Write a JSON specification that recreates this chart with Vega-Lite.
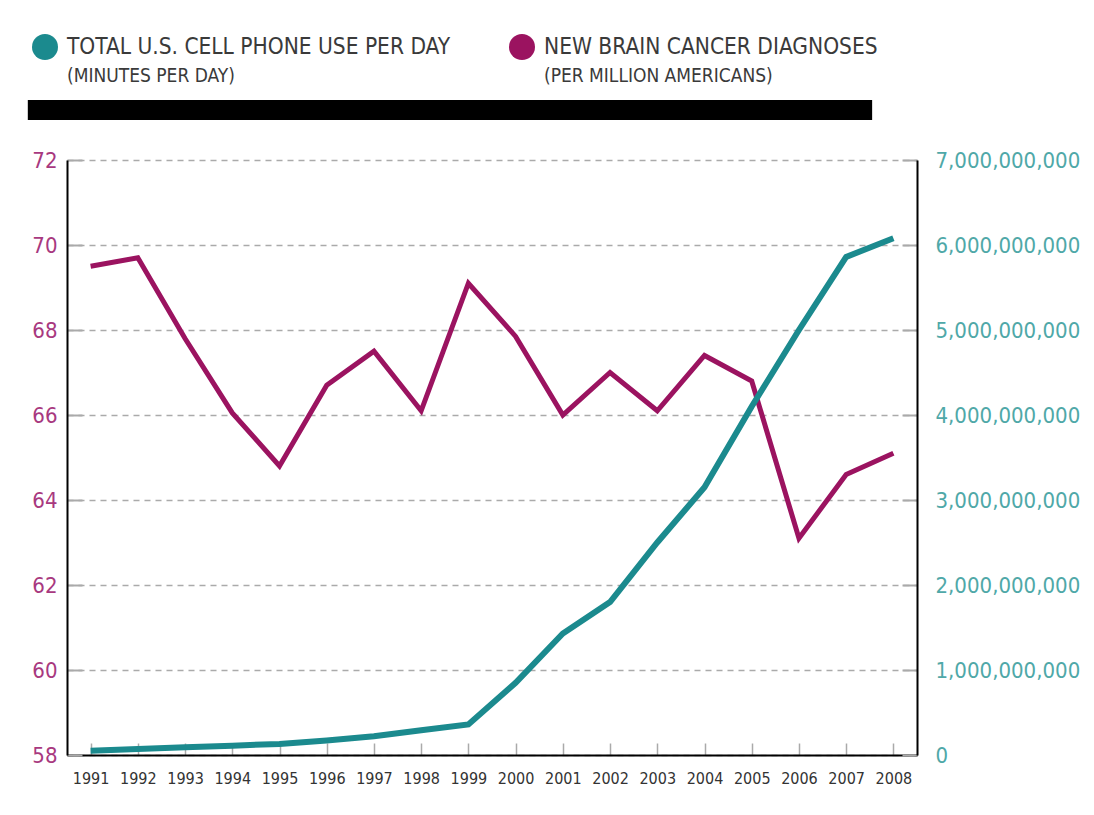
{
  "$schema": "https://vega.github.io/schema/vega-lite/v6.json",
  "width": 850,
  "height": 595,
  "autosize": {"type": "none"},
  "padding": {"left": 67, "top": 160, "right": 177, "bottom": 60},
  "background": "white",
  "config": {"view": {"stroke": null}, "font": "DejaVu Sans Condensed"},
  "datasets": {
    "main": [
      {"year": 1991, "series": "NEW BRAIN CANCER DIAGNOSES", "value": 69.5},
      {"year": 1992, "series": "NEW BRAIN CANCER DIAGNOSES", "value": 69.7},
      {"year": 1993, "series": "NEW BRAIN CANCER DIAGNOSES", "value": 67.8},
      {"year": 1994, "series": "NEW BRAIN CANCER DIAGNOSES", "value": 66.05},
      {"year": 1995, "series": "NEW BRAIN CANCER DIAGNOSES", "value": 64.8},
      {"year": 1996, "series": "NEW BRAIN CANCER DIAGNOSES", "value": 66.7},
      {"year": 1997, "series": "NEW BRAIN CANCER DIAGNOSES", "value": 67.5},
      {"year": 1998, "series": "NEW BRAIN CANCER DIAGNOSES", "value": 66.1},
      {"year": 1999, "series": "NEW BRAIN CANCER DIAGNOSES", "value": 69.1},
      {"year": 2000, "series": "NEW BRAIN CANCER DIAGNOSES", "value": 67.85},
      {"year": 2001, "series": "NEW BRAIN CANCER DIAGNOSES", "value": 66.0},
      {"year": 2002, "series": "NEW BRAIN CANCER DIAGNOSES", "value": 67.0},
      {"year": 2003, "series": "NEW BRAIN CANCER DIAGNOSES", "value": 66.1},
      {"year": 2004, "series": "NEW BRAIN CANCER DIAGNOSES", "value": 67.4},
      {"year": 2005, "series": "NEW BRAIN CANCER DIAGNOSES", "value": 66.8},
      {"year": 2006, "series": "NEW BRAIN CANCER DIAGNOSES", "value": 63.1},
      {"year": 2007, "series": "NEW BRAIN CANCER DIAGNOSES", "value": 64.6},
      {"year": 2008, "series": "NEW BRAIN CANCER DIAGNOSES", "value": 65.1},
      {"year": 1991, "series": "TOTAL U.S. CELL PHONE USE PER DAY", "value": 50000000},
      {"year": 1992, "series": "TOTAL U.S. CELL PHONE USE PER DAY", "value": 70000000},
      {"year": 1993, "series": "TOTAL U.S. CELL PHONE USE PER DAY", "value": 90000000},
      {"year": 1994, "series": "TOTAL U.S. CELL PHONE USE PER DAY", "value": 110000000},
      {"year": 1995, "series": "TOTAL U.S. CELL PHONE USE PER DAY", "value": 130000000},
      {"year": 1996, "series": "TOTAL U.S. CELL PHONE USE PER DAY", "value": 170000000},
      {"year": 1997, "series": "TOTAL U.S. CELL PHONE USE PER DAY", "value": 220000000},
      {"year": 1998, "series": "TOTAL U.S. CELL PHONE USE PER DAY", "value": 290000000},
      {"year": 1999, "series": "TOTAL U.S. CELL PHONE USE PER DAY", "value": 360000000},
      {"year": 2000, "series": "TOTAL U.S. CELL PHONE USE PER DAY", "value": 850000000},
      {"year": 2001, "series": "TOTAL U.S. CELL PHONE USE PER DAY", "value": 1430000000},
      {"year": 2002, "series": "TOTAL U.S. CELL PHONE USE PER DAY", "value": 1800000000},
      {"year": 2003, "series": "TOTAL U.S. CELL PHONE USE PER DAY", "value": 2500000000},
      {"year": 2004, "series": "TOTAL U.S. CELL PHONE USE PER DAY", "value": 3150000000},
      {"year": 2005, "series": "TOTAL U.S. CELL PHONE USE PER DAY", "value": 4100000000},
      {"year": 2006, "series": "TOTAL U.S. CELL PHONE USE PER DAY", "value": 5000000000},
      {"year": 2007, "series": "TOTAL U.S. CELL PHONE USE PER DAY", "value": 5860000000},
      {"year": 2008, "series": "TOTAL U.S. CELL PHONE USE PER DAY", "value": 6080000000}
    ],
    "legend": [
      {"series": "TOTAL U.S. CELL PHONE USE PER DAY", "unit": "(MINUTES PER DAY)"},
      {"series": "NEW BRAIN CANCER DIAGNOSES", "unit": "(PER MILLION AMERICANS)"}
    ],
    "bar": [{"item": "bar"}]
  },
  "resolve": {"scale": {"y": "independent"}, "axis": {"y": "independent"}},
  "layer": [
    {
      "data": {"name": "bar"},
      "mark": {"type": "rect", "color": "#000000", "clip": false},
      "encoding": {
        "x": {"datum": 1989.67, "type": "quantitative", "scale": {"domain": [1990.5, 2008.5], "nice": false, "zero": false}},
        "x2": {"datum": 2007.55},
        "y": {"datum": 73.41, "type": "quantitative", "scale": {"domain": [58, 72], "nice": false, "zero": false}, "axis": null},
        "y2": {"datum": 72.94}
      }
    },
    {
      "data": {"name": "main"},
      "transform": [{"filter": "datum.series === 'NEW BRAIN CANCER DIAGNOSES'"}],
      "mark": {"type": "line", "strokeWidth": 5, "color": "#9b1360"},
      "encoding": {
        "x": {
          "field": "year", "type": "quantitative",
          "scale": {"domain": [1990.5, 2008.5], "nice": false, "zero": false},
          "axis": {
            "values": [1991, 1992, 1993, 1994, 1995, 1996, 1997, 1998, 1999, 2000, 2001, 2002, 2003, 2004, 2005, 2006, 2007, 2008],
            "format": "d", "title": null, "grid": false,
            "domainColor": "#000000", "domainWidth": 2,
            "tickSize": -12, "tickColor": "#aaaaaa", "tickWidth": 1.5,
            "labelFont": "DejaVu Sans Condensed", "labelFontSize": 16, "labelColor": "#333333", "labelPadding": 27
          }
        },
        "y": {
          "field": "value", "type": "quantitative",
          "scale": {"domain": [58, 72], "nice": false, "zero": false},
          "axis": {
            "orient": "left", "values": [58, 60, 62, 64, 66, 68, 70, 72], "title": null,
            "domainColor": "#000000", "domainWidth": 2,
            "tickSize": -15, "tickColor": "#aaaaaa", "tickWidth": 2,
            "grid": true, "gridDash": [6, 5], "gridColor": "#aaaaaa", "gridWidth": 1.5,
            "labelFont": "DejaVu Sans Condensed", "labelFontSize": 22, "labelColor": "#a8397f", "labelPadding": 25
          }
        }
      }
    },
    {
      "data": {"name": "main"},
      "transform": [{"filter": "datum.series === 'TOTAL U.S. CELL PHONE USE PER DAY'"}],
      "mark": {"type": "line", "strokeWidth": 6, "color": "#1b8a8e"},
      "encoding": {
        "x": {"field": "year", "type": "quantitative", "scale": {"domain": [1990.5, 2008.5], "nice": false, "zero": false}},
        "y": {
          "field": "value", "type": "quantitative",
          "scale": {"domain": [0, 7000000000], "nice": false},
          "axis": {
            "orient": "right", "values": [0, 1000000000, 2000000000, 3000000000, 4000000000, 5000000000, 6000000000, 7000000000],
            "format": ",d", "title": null, "grid": false,
            "domainColor": "#000000", "domainWidth": 2,
            "tickSize": -15, "tickColor": "#aaaaaa", "tickWidth": 2,
            "labelFont": "DejaVu Sans Condensed", "labelFontSize": 22, "labelColor": "#4fa8a8", "labelPadding": 33
          }
        }
      }
    },
    {
      "data": {"name": "legend"},
      "mark": {"type": "point", "filled": true, "opacity": 0},
      "encoding": {
        "fill": {
          "field": "series", "type": "nominal",
          "scale": {"domain": ["TOTAL U.S. CELL PHONE USE PER DAY", "NEW BRAIN CANCER DIAGNOSES"], "range": ["#1b8a8e", "#9b1360"]},
          "legend": {
            "orient": "none", "legendX": -35, "legendY": -126, "direction": "horizontal", "columns": 2,
            "title": null, "padding": 0, "symbolType": "circle", "symbolSize": 676, "symbolOpacity": 1, "symbolStrokeWidth": 0,
            "labelFont": "DejaVu Sans Condensed", "labelFontSize": 22.5, "labelColor": "#3a3a3a",
            "labelOffset": 9, "labelLimit": 600, "columnPadding": 58
          }
        },
        "shape": {
          "field": "unit", "type": "nominal",
          "scale": {"domain": ["(MINUTES PER DAY)", "(PER MILLION AMERICANS)"], "range": ["circle", "circle"]},
          "legend": {
            "orient": "none", "legendX": -35, "legendY": -97, "direction": "horizontal", "columns": 2,
            "title": null, "padding": 0, "symbolSize": 676, "symbolOpacity": 0, "symbolStrokeWidth": 0,
            "labelFont": "DejaVu Sans Condensed", "labelFontSize": 19, "labelColor": "#3a3a3a",
            "labelOffset": 9, "labelLimit": 600, "columnPadding": 274
          }
        }
      }
    }
  ]
}
